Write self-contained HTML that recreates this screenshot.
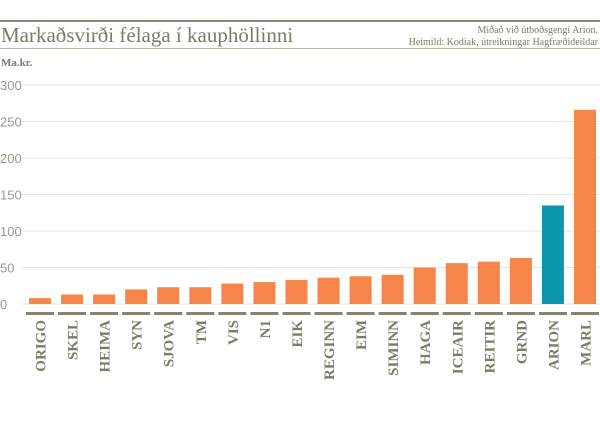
<!DOCTYPE html>
<html><head><meta charset="utf-8"><style>
body{margin:0;background:#fff;width:600px;height:437px;overflow:hidden;font-family:"Liberation Serif",serif}
</style></head><body>
<svg width="600" height="437">
<line x1="0" y1="21" x2="600" y2="21" stroke="#8a8775" stroke-width="2"/>
<line x1="0" y1="48.5" x2="600" y2="48.5" stroke="#b8b6aa" stroke-width="1"/>
<text x="1" y="42" font-size="21" fill="#7d7a66">Markaðsvirði félaga í kauphöllinni</text>
<text x="598" y="33" font-size="10" fill="#7d7a66" text-anchor="end">Miðað við útboðsgengi Arion.</text>
<text x="598" y="45" font-size="10" fill="#7d7a66" text-anchor="end">Heimild: Kodiak, útreikningar Hagfræðideildar</text>
<text x="1" y="66" font-size="11" font-weight="bold" fill="#7d7a66">Ma.kr.</text>
<g id="grid"></g><g id="bars"></g><g id="xaxis"></g>
</svg>
<script>
const categories=["ORIGO","SKEL","HEIMA","SYN","SJOVA","TM","VIS","N1","EIK","REGINN","EIM","SIMINN","HAGA","ICEAIR","REITIR","GRND","ARION","MARL"];
const values=[8,13,13,20,23,23,28,30,33,36,38,40,50,56,58,63,135,266];
const highlight=["ARION"];
const yTicks=[0,50,100,150,200,250,300];
const NS="http://www.w3.org/2000/svg";
const y=v=>304-v*(219/300);
const x=i=>40+i*32.06;
const grid=document.getElementById('grid'),bars=document.getElementById('bars'),xa=document.getElementById('xaxis');
yTicks.forEach(t=>{
 const l=document.createElementNS(NS,'line');
 l.setAttribute('x1',22);l.setAttribute('x2',600);l.setAttribute('y1',y(t));l.setAttribute('y2',y(t));
 l.setAttribute('stroke','#e6e6e6');l.setAttribute('stroke-width','1');
 
 
 grid.appendChild(l);
 const tx=document.createElementNS(NS,'text');
 tx.setAttribute('x',0);tx.setAttribute('y',y(t)+5);tx.setAttribute('font-size','13');
 tx.setAttribute('font-family','Liberation Sans, sans-serif');tx.setAttribute('fill','#9a988c');
 tx.textContent=t;
 
 
 grid.appendChild(tx);
});
categories.forEach((c,i)=>{
 const r=document.createElementNS(NS,'rect');
 const v=values[i];
 r.setAttribute('x',x(i)-11);r.setAttribute('width',22);r.setAttribute('y',y(v));r.setAttribute('height',y(0)-y(v));
 r.setAttribute('fill',highlight.includes(c)?'#0c98aa':'#f58548');
 
 
 bars.appendChild(r);
 const tk=document.createElementNS(NS,'rect');
 tk.setAttribute('x',x(i)-14);tk.setAttribute('width',28);tk.setAttribute('y',312);tk.setAttribute('height',3);
 tk.setAttribute('fill','#86836f');
 
 
 xa.appendChild(tk);
 const t=document.createElementNS(NS,'text');
 t.setAttribute('transform','translate('+(x(i)+5.5)+',320) rotate(-90)');
 t.setAttribute('text-anchor','end');t.setAttribute('font-size','15');t.setAttribute('font-weight','bold');
 t.setAttribute('fill','#7d7a66');
 t.textContent=c;
 
 
 xa.appendChild(t);
});
</script>
</body></html>
